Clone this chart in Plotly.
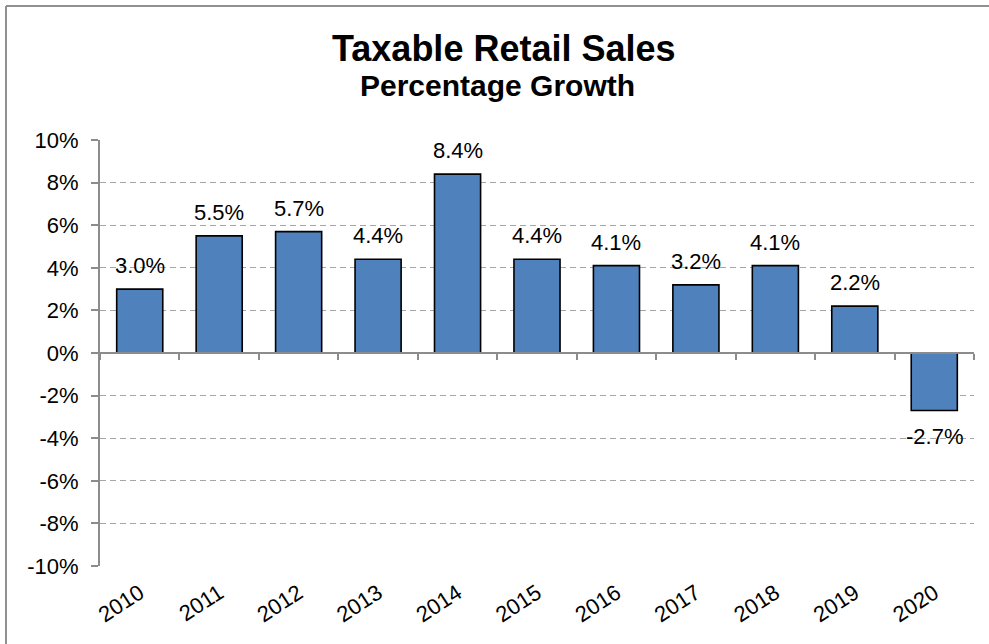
import plotly.graph_objects as go

# Annual growth of taxable retail sales (percent)
years = ["2010", "2011", "2012", "2013", "2014", "2015",
         "2016", "2017", "2018", "2019", "2020"]
growth = [3.0, 5.5, 5.7, 4.4, 8.4, 4.4, 4.1, 3.2, 4.1, 2.2, -2.7]
labels = [f"{v:.1f}%" for v in growth]

y_ticks = list(range(-10, 11, 2))
y_tick_text = [f"{t}%" for t in y_ticks]

FONT = "Liberation Sans, Arial, sans-serif"
AXIS_GRAY = "#8c8c8c"

W, H = 989, 644
L, R, T, B = 100, 15, 140, 78
plot_w, plot_h = W - L - R, H - T - B


def px_x(p):
    """page pixel column -> paper x"""
    return (p - L) / plot_w


def px_y(p):
    """page pixel row -> paper y"""
    return (H - B - p) / plot_h


fig = go.Figure()

fig.add_trace(go.Bar(
    x=years, y=growth, width=0.58,
    marker=dict(color="#4F81BD", line=dict(color="black", width=1.6)),
    hoverinfo="x+y",
))

# invisible trace that carries the category axis drawn along y = 0
fig.add_trace(go.Scatter(
    x=years, y=growth, xaxis="x2", mode="markers",
    marker=dict(opacity=0), hoverinfo="skip", showlegend=False,
))

# value labels above positive bars, below negative ones
# (x given as category index so "2010" is not read as a number)
for i, (v, txt) in enumerate(zip(growth, labels)):
    fig.add_annotation(
        x=i, y=v, xref="x", yref="y", text=txt, showarrow=False,
        yanchor="bottom" if v >= 0 else "top",
        yshift=9 if v >= 0 else -11,
        font=dict(family=FONT, size=22, color="black"),
    )

# chart heading
fig.add_annotation(
    x=px_x(504), y=px_y(48), xref="paper", yref="paper",
    text="<b>Taxable Retail Sales</b>", showarrow=False,
    xanchor="center", yanchor="middle",
    font=dict(family=FONT, size=36, color="black"),
)
fig.add_annotation(
    x=px_x(497), y=px_y(86), xref="paper", yref="paper",
    text="<b>Percentage Growth</b>", showarrow=False,
    xanchor="center", yanchor="middle",
    font=dict(family=FONT, size=30, color="black"),
)

# outer chart frame: only its top and left edges sit on the page
fig.add_shape(
    type="line", xref="paper", yref="paper", layer="above",
    x0=px_x(6), x1=px_x(W), y0=px_y(6), y1=px_y(6),
    line=dict(color="#909090", width=2),
)
fig.add_shape(
    type="line", xref="paper", yref="paper", layer="above",
    x0=px_x(6), x1=px_x(6), y0=px_y(6), y1=px_y(H),
    line=dict(color="#909090", width=2),
)

fig.update_layout(
    width=W, height=H,
    margin=dict(l=L, r=R, t=T, b=B, pad=0),
    paper_bgcolor="white", plot_bgcolor="white",
    showlegend=False,
    font=dict(family=FONT, size=22, color="black"),
    xaxis=dict(
        type="category", range=[-0.5, 10.5],
        showline=False, showgrid=False, zeroline=False,
        ticks="", tickangle=-33,
        tickfont=dict(family=FONT, size=22, color="black"),
        ticklabelstandoff=9,
    ),
    xaxis2=dict(
        type="category", overlaying="x", matches="x",
        anchor="free", position=0.5, side="bottom",
        showline=True, linecolor=AXIS_GRAY, linewidth=2,
        ticks="outside", ticklen=6, tickwidth=2, tickcolor=AXIS_GRAY,
        tickson="boundaries", showticklabels=False,
        showgrid=False, zeroline=False,
    ),
    yaxis=dict(
        range=[-10, 10], tickvals=y_ticks, ticktext=y_tick_text,
        showline=True, linecolor=AXIS_GRAY, linewidth=2,
        ticks="outside", ticklen=7, tickwidth=2, tickcolor=AXIS_GRAY,
        showgrid=True, gridcolor="#a6a6a6", gridwidth=1.2, griddash="6px,4px",
        zeroline=False,
        tickfont=dict(family=FONT, size=22, color="black"),
        ticklabelstandoff=8,
    ),
)

fig.write_html("out.html")
